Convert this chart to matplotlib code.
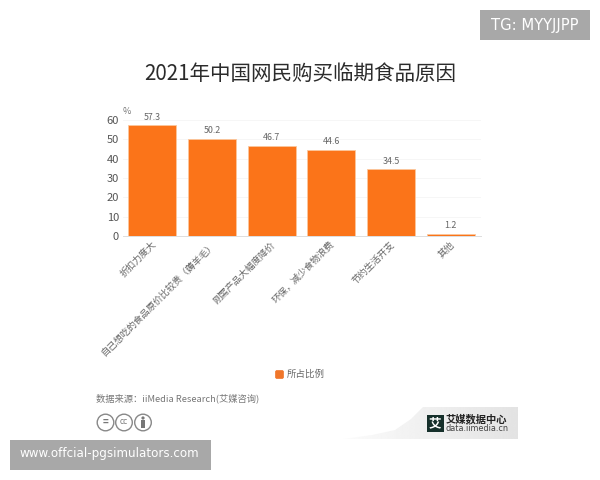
import matplotlib
matplotlib.use('Agg')
import matplotlib.pyplot as plt
import numpy as np
from matplotlib.patches import Rectangle, Circle, Polygon, FancyBboxPatch
from matplotlib.transforms import ScaledTranslation

plt.rcParams['font.family'] = ['Noto Sans CJK SC', 'DejaVu Sans']

categories = ['折扣力度大', '自己想吃的食品原价比较贵（薅羊毛）', '刚需产品大幅度降价',
              '环保，减少食物浪费', '节约生活开支', '其他']
values = [57.3, 50.2, 46.7, 44.6, 34.5, 1.2]
yticks = [0, 10, 20, 30, 40, 50, 60]
title = '2021年中国网民购买临期食品原因'
legend_label = '所占比例'
source = '数据来源：iiMedia Research(艾媒咨询)'
url_mark = 'www.offcial-pgsimulators.com'
tg_mark = 'TG: MYYJJPP'

ORANGE = '#fb7419'
W, H = 600, 480
fig = plt.figure(figsize=(6, 4.8), dpi=100, facecolor='white')

ax = fig.add_axes([122.5 / W, 1 - 236 / H, 358 / W, 116 / H])
x = list(range(len(values)))
ax.bar(x, values, width=0.8, color=ORANGE, edgecolor='#fbc79c', linewidth=0.6, zorder=3)
ax.set_xlim(-0.5, 5.5)
ax.set_ylim(0, 60)
ax.set_yticks(yticks)
ax.set_yticklabels([str(v) for v in yticks], fontsize=8, color='#555555')
ax.set_xticks(x)
ax.set_xticklabels(categories, rotation=45, ha='right', va='center', rotation_mode='anchor',
                   fontsize=6.7, color='#666666')
ax.tick_params(axis='y', length=0, pad=2.5)
ax.tick_params(axis='x', length=0, pad=5)
shift = ScaledTranslation(2 / 100, 0, fig.dpi_scale_trans)
for lab in ax.get_xticklabels():
    lab.set_transform(lab.get_transform() + shift)
ax.grid(axis='y', color='#f6f6f6', linewidth=0.7, zorder=0)
for s in ['top', 'right', 'left']:
    ax.spines[s].set_visible(False)
ax.spines['bottom'].set_color('#dddddd')
ax.spines['bottom'].set_linewidth(0.7)
for xi, v in zip(x, values):
    ax.annotate(f'{v}', (xi, v), xytext=(0, 2.5), textcoords='offset points', ha='center',
                va='bottom', fontsize=6.4, color='#666666')

# page overlay in pixel coordinates
ov = fig.add_axes([0, 0, 1, 1], facecolor='none', zorder=5)
ov.set_xlim(0, W)
ov.set_ylim(H, 0)
ov.axis('off')
ov.text(300, 73.5, title, ha='center', va='center', fontsize=14.8, color='#2b2b2b')
ov.text(123, 112, '%', ha='left', va='center', fontsize=6.5, color='#777777')

# legend
ov.add_patch(FancyBboxPatch((275.5, 370.5), 8, 8, boxstyle='round,pad=0,rounding_size=1.5',
                            facecolor='#f0762a', edgecolor='#f0762a', linewidth=0.5))
ov.text(287, 374, legend_label, ha='left', va='center', fontsize=6.8, color='#666666')

# source and licence icons
ov.text(96, 398, source, ha='left', va='center', fontsize=6.7, color='#777777')
for cx in [105.5, 124, 143]:
    ov.add_patch(Circle((cx, 422.5), 8.3, facecolor='white', edgecolor='#888888', linewidth=1))
ov.text(105.5, 422, '=', ha='center', va='center', fontsize=7, color='#777777', fontweight='bold')
ov.text(124, 422, 'cc', ha='center', va='center', fontsize=5.5, color='#777777',
        family='DejaVu Sans')
ov.add_patch(Circle((143, 418), 1.6, facecolor='#777777', edgecolor='none'))
ov.add_patch(Rectangle((141.3, 420), 3.4, 7.5, facecolor='#777777', edgecolor='none'))

# logo band with a fade towards the left
band = Polygon([(343, 439), (372, 435), (395, 430), (411, 419), (423, 407), (518, 407),
                (518, 439)], closed=True, facecolor='none', edgecolor='none')
ov.add_patch(band)
grad = np.linspace(0.985, 0.89, 256).reshape(1, -1)
im = ov.imshow(grad, extent=(343, 518, 439, 407), cmap='gray', vmin=0, vmax=1,
               aspect='auto', zorder=1)
im.set_clip_path(band)
ov.set_xlim(0, W)
ov.set_ylim(H, 0)
ov.add_patch(Rectangle((427, 415), 16.5, 17, facecolor='#16302b', edgecolor='none', zorder=2))
ov.text(435.2, 423.5, '艾', ha='center', va='center', fontsize=9, color='white',
        fontweight='bold', zorder=3)
ov.text(446, 419.5, '艾媒数据中心', ha='left', va='center', fontsize=7.4, color='#222222',
        fontweight='bold', zorder=3)
ov.text(446, 428.5, 'data.iimedia.cn', ha='left', va='center', fontsize=5.85, color='#444444',
        family='DejaVu Sans', zorder=3)

# watermarks
ov.add_patch(Rectangle((10, 440), 201, 30, facecolor='#a8a8a8', edgecolor='none'))
ov.text(20, 454, url_mark, ha='left', va='center', fontsize=8.6, color='white',
        family='DejaVu Sans')
ov.add_patch(Rectangle((480, 10), 110, 30, facecolor='#a8a8a8', edgecolor='none'))
ov.text(535, 25.5, tg_mark, ha='center', va='center', fontsize=10.6, color='white',
        family='DejaVu Sans')

fig.savefig('out.png', dpi=100)
